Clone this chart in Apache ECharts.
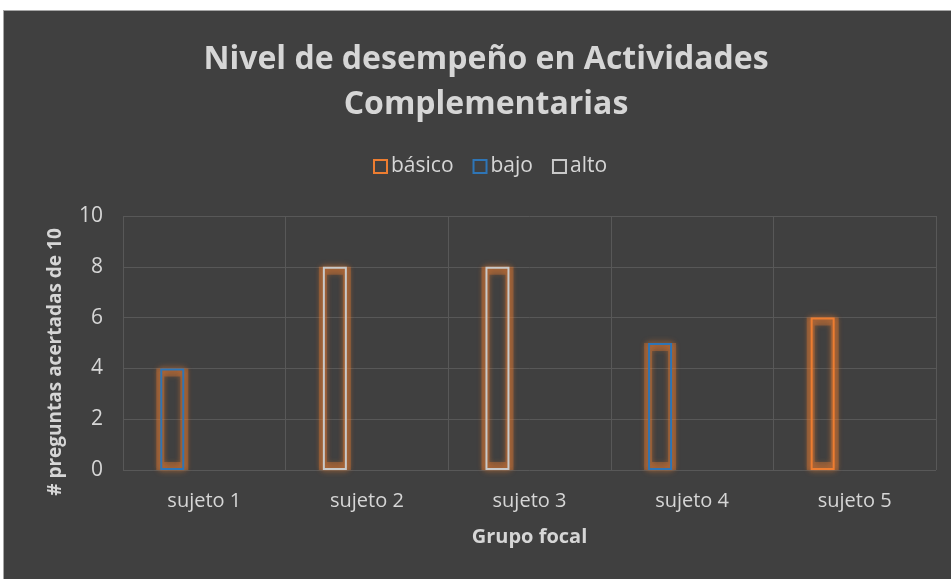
<!DOCTYPE html>
<html>
<head>
<meta charset="utf-8">
<script src="https://cdn.jsdelivr.net/npm/echarts@6/dist/echarts.min.js"></script>
<style>
  html, body { margin: 0; padding: 0; background: #ffffff; }
  #chart {
    position: absolute;
    left: 3px;
    top: 10px;
    width: 948px;
    height: 569px;
    background: #404040;
    border-top: 1px solid #a6a6a6;
    border-left: 1px solid #a6a6a6;
    box-sizing: border-box;
  }
</style>
</head>
<body>
<div id="chart"></div>
<script>
const categories = ["sujeto 1", "sujeto 2", "sujeto 3", "sujeto 4", "sujeto 5"];
const basico = [null, null, null, null, 6];
const bajo = [4, null, null, 5, null];
const alto = [null, 8, 8, null, null];
const yTicks = [0, 2, 4, 6, 8, 10];

const textColor = "#d6d6d6";
const fontFamily = "'Open Sans', 'Noto Sans', sans-serif";

// outline bars on x axis 0, an orange halo under them on hidden x axis 1
function barSeries(name, data, border) {
  return {
    name: name,
    type: "bar",
    stack: "nivel",
    data: data,
    barWidth: 24,
    barGap: "167%",
    z: 3,
    itemStyle: {
      color: "transparent",
      borderColor: border,
      borderWidth: 2,
      shadowColor: "rgba(237, 125, 49, 0.9)",
      shadowBlur: 6,
    },
    emphasis: { disabled: true },
  };
}

function glowSeries(name, data) {
  return {
    name: name + "-brillo",
    type: "bar",
    stack: "brillo",
    xAxisIndex: 1,
    data: data,
    barWidth: 32,
    barGap: "100%",
    z: 2,
    silent: true,
    itemStyle: {
      color: "transparent",
      borderColor: "rgba(237, 125, 49, 0.33)",
      borderWidth: 8,
      shadowColor: "rgba(237, 125, 49, 0.6)",
      shadowBlur: 5,
    },
  };
}

function emptySlot(stack, axis, width) {
  return {
    name: "vacío-" + stack,
    type: "bar",
    stack: stack,
    xAxisIndex: axis,
    data: categories.map(() => null),
    barWidth: width,
  };
}

const chart = echarts.init(document.getElementById("chart"));
chart.setOption({
  animation: false,
  textStyle: { fontFamily: fontFamily },
  title: {
    text: "Nivel de desempeño en Actividades\nComplementarias",
    left: 477,
    top: 21,
    textAlign: "center",
    textStyle: {
      color: textColor,
      fontSize: 32,
      fontWeight: "bold",
      lineHeight: 45,
      fontFamily: fontFamily,
    },
  },
  legend: {
    data: ["básico", "bajo", "alto"],
    left: 364,
    top: 140,
    icon: "rect",
    itemWidth: 13,
    itemHeight: 13,
    itemGap: 19,
    textStyle: { color: textColor, fontSize: 21, fontFamily: fontFamily, padding: [0, 0, 0, -1] },
  },
  grid: { left: 119, right: 15, top: 205, bottom: 109 },
  xAxis: [
    {
      type: "category",
      data: categories,
      name: "Grupo focal",
      nameLocation: "middle",
      nameGap: 57,
      nameTextStyle: { color: textColor, fontSize: 20, fontWeight: "bold" },
      axisLine: { show: false },
      axisTick: { show: false },
      axisLabel: { color: textColor, fontSize: 20, margin: 21 },
      splitLine: { show: true, lineStyle: { color: "#585858", width: 1 } },
    },
    {
      type: "category",
      data: categories,
      show: false,
    },
  ],
  yAxis: {
    type: "value",
    min: yTicks[0],
    max: yTicks[yTicks.length - 1],
    interval: yTicks[1] - yTicks[0],
    name: "# preguntas acertadas de 10",
    nameLocation: "middle",
    nameGap: 58,
    nameTextStyle: { color: textColor, fontSize: 19, fontWeight: "bold", padding: [0, 38, 0, 0] },
    axisLine: { show: false },
    axisTick: { show: false },
    axisLabel: { color: textColor, fontSize: 21, margin: 20 },
    splitLine: { lineStyle: { color: "#585858", width: 1 } },
  },
  series: [
    glowSeries("básico", basico),
    glowSeries("bajo", bajo),
    glowSeries("alto", alto),
    emptySlot("brillo-otro", 1, 32),
    barSeries("básico", basico, "#ed7d31"),
    barSeries("bajo", bajo, "#2e75b6"),
    barSeries("alto", alto, "#c9c9c9"),
    emptySlot("otro", 0, 24),
  ],
});
</script>
</body>
</html>
